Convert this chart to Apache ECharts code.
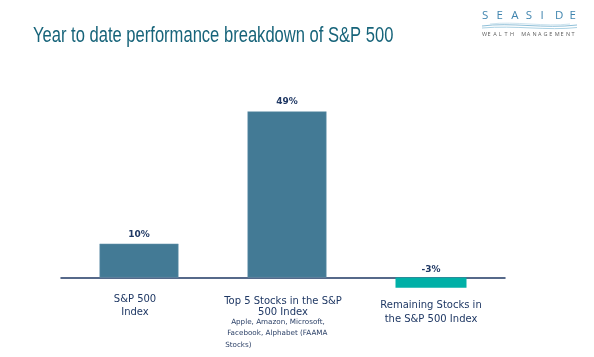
<!DOCTYPE html>
<html>
<head>
<meta charset="utf-8">
<script src="https://cdn.jsdelivr.net/npm/echarts@6/dist/echarts.min.js"></script>
<style>html,body{margin:0;padding:0;background:#fff}#c{width:594px;height:357px}</style>
</head>
<body>
<div id="c"></div>
<script>
var titleText = 'Year to date performance breakdown of S&P 500';
var categories = ['S&P 500\nIndex', 'Top 5 Stocks in the S&P\n500 Index', 'Remaining Stocks in\nthe S&P 500 Index'];
var subNotes = ['', 'Apple, Amazon, Microsoft,\nFacebook, Alphabet (FAAMA\nStocks)', ''];
var values = [10, 49, -3];
var logoWord = 'SEASIDE';
var logoSub = 'WEALTH MANAGEMENT';

var navy = '#1F3864';
var posData = values.map(function (v) { return v >= 0 ? v : '-'; });
var negData = values.map(function (v) { return v < 0 ? v : '-'; });
var labelPadTop = [0, 2.5, 5.5];

var graphics = [];
graphics.push({
  type: 'text', x: 33, y: 25, scaleX: 0.753, originX: 0,
  style: { text: titleText, fill: '#17647A', font: '22px "Liberation Sans", Arial, sans-serif', verticalAlign: 'top', align: 'left' }
});
// logo letters
for (var i = 0; i < logoWord.length; i++) {
  graphics.push({
    type: 'text', x: 482 + i * 14.6, y: 10,
    style: { text: logoWord[i], fill: '#3F84AE', font: '11.5px "Open Sans", sans-serif', align: 'left', verticalAlign: 'top' }
  });
}
for (var j = 0; j < logoSub.length; j++) {
  graphics.push({
    type: 'text', x: 482 + j * 5.6, y: 31.5,
    style: { text: logoSub[j], fill: '#5e5e5e', font: '5.5px "Open Sans", sans-serif', align: 'left', verticalAlign: 'top' }
  });
}
graphics.push({ type: 'bezierCurve', shape: { x1: 482, y1: 26, x2: 577, y2: 25, cpx1: 510, cpy1: 22, cpx2: 545, cpy2: 29 }, style: { stroke: '#8FBFD8', lineWidth: 1, fill: null } });
graphics.push({ type: 'bezierCurve', shape: { x1: 482, y1: 28, x2: 577, y2: 27.5, cpx1: 515, cpy1: 25, cpx2: 548, cpy2: 31 }, style: { stroke: '#ABD2E4', lineWidth: 1, fill: null } });
graphics.push({ type: 'bezierCurve', shape: { x1: 490, y1: 24, x2: 570, y2: 24, cpx1: 515, cpy1: 21, cpx2: 545, cpy2: 27 }, style: { stroke: '#C0DCEA', lineWidth: 0.8, fill: null } });

var font = '"DejaVu Sans", Verdana, sans-serif';
var chart = echarts.init(document.getElementById('c'), null, { renderer: 'canvas' });
chart.setOption({
  animation: false,
  backgroundColor: '#fff',
  graphic: graphics,
  grid: { left: 61, right: 89, top: 108, bottom: 45.5, containLabel: false, outerBoundsMode: 'none' },
  xAxis: {
    type: 'category',
    data: categories.map(function (c, i) { return { value: c, textStyle: { padding: [labelPadTop[i], 0, 0, 0] } }; }),
    axisLine: { onZero: true, lineStyle: { color: navy, width: 1.5 } },
    axisTick: { show: false },
    axisLabel: {
      interval: 0, margin: -18, color: navy,
      fontFamily: font, fontSize: 10, lineHeight: 12,
      formatter: function (v, idx) {
        var lines = v.split('\n').map(function (l) { return '{m' + idx + '|' + l + '}'; });
        if (subNotes[idx]) {
          subNotes[idx].split('\n').forEach(function (l, k) {
            lines.push('{s' + (k + 1) + '|' + l + '}');
          });
        }
        return lines.join('\n');
      },
      rich: {
        m0: { fontFamily: font, fontSize: 10, lineHeight: 12.5, color: navy },
        m1: { fontFamily: font, fontSize: 10, lineHeight: 11, color: navy },
        m2: { fontFamily: font, fontSize: 10, lineHeight: 13.5, color: navy },
        s1: { fontFamily: font, fontSize: 7.2, lineHeight: 8.5, color: '#2A3F66', align: 'left', padding: [0, 0, 0, 7] },
        s2: { fontFamily: font, fontSize: 7.2, lineHeight: 12.7, color: '#2A3F66', align: 'left', padding: [0, 0, 0, 3] },
        s3: { fontFamily: font, fontSize: 7.2, lineHeight: 12.3, color: '#2A3F66', align: 'left', padding: [0, 0, 0, 1] }
      }
    }
  },
  yAxis: {
    type: 'value', min: -10, max: 50, interval: 10, show: false,
    splitLine: { show: false }
  },
  series: [
    {
      type: 'bar', data: posData, barWidth: 79, barGap: '-100%',
      itemStyle: { color: '#437A95', borderColor: '#6E9AB0', borderWidth: 0.5 },
      label: { show: true, position: 'top', distance: 5, formatter: '{c}%', color: navy, fontFamily: font, fontSize: 9, fontWeight: 'bold' }
    },
    {
      type: 'bar', data: negData, barWidth: 71, barGap: '-100%',
      itemStyle: { color: '#00B0A7' },
      label: { show: true, position: 'top', distance: 3, formatter: '{c}%', color: navy, fontFamily: font, fontSize: 9, fontWeight: 'bold' }
    }
  ]
});
</script>
</body>
</html>
